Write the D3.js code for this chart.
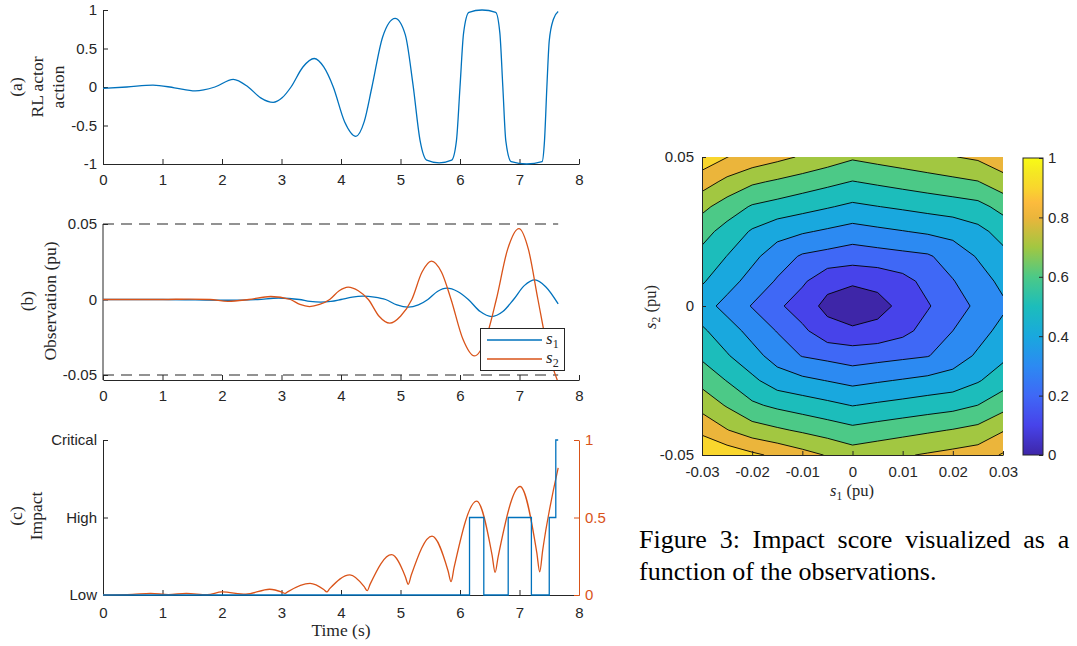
<!DOCTYPE html>
<html>
<head>
<meta charset="utf-8">
<script src="https://cdn.jsdelivr.net/npm/d3@7"></script>
<style>
  html, body { margin: 0; padding: 0; background: #fff; }
  svg { display: block; }
</style>
</head>
<body>
<svg id="fig" width="1077" height="646"></svg>
<script>
// ---- values ----
const timeTicks = [0, 1, 2, 3, 4, 5, 6, 7, 8];

// (a) RL actor action
const actionTime = [0, 0.4, 0.84, 1.2, 1.55, 1.88, 2.19, 2.44, 2.65, 2.86, 3.01, 3.16, 3.36, 3.55, 3.71, 3.87, 4.06, 4.25, 4.39, 4.52, 4.7, 4.91, 5.08, 5.21, 5.33, 5.44, 5.65, 5.86, 5.94, 6.0, 6.06, 6.15, 6.37, 6.6, 6.67, 6.72, 6.77, 6.86, 7.12, 7.38, 7.42, 7.46, 7.5, 7.57, 7.65];
const action = [-0.017, 0.0, 0.025, -0.01, -0.05, 0.0, 0.1, 0.0, -0.141, -0.2, -0.141, 0.0, 0.26, 0.37, 0.26, 0.0, -0.45, -0.64, -0.45, 0.0, 0.65, 0.89, 0.68, 0.03, -0.7, -0.95, -0.985, -0.95, -0.7, 0.0, 0.7, 0.97, 1.0, 0.97, 0.7, 0.0, -0.7, -0.97, -1.0, -0.97, -0.7, 0.0, 0.6, 0.88, 0.98];
const actionTicks = [-1, -0.5, 0, 0.5, 1];

// (b) observations
const s1Time = [0, 1.0, 2.1, 2.6, 2.95, 3.3, 3.48, 3.66, 3.83, 4.0, 4.19, 4.37, 4.56, 4.75, 4.94, 5.13, 5.3, 5.46, 5.62, 5.78, 5.96, 6.14, 6.34, 6.53, 6.72, 6.9, 7.08, 7.26, 7.44, 7.65];
const s1 = [0, 0, -0.0005, 0, 0.001, 0, -0.0013, -0.0018, -0.0013, 0, 0.0016, 0.0022, 0.0016, 0, -0.0036, -0.0051, -0.0036, 0, 0.0053, 0.0075, 0.0053, 0, -0.008, -0.0113, -0.008, 0, 0.0092, 0.013, 0.0085, -0.0029];
const s2Time = [0, 1.0, 1.45, 1.8, 2.1, 2.45, 2.82, 3.15, 3.31, 3.47, 3.64, 3.81, 3.97, 4.12, 4.29, 4.46, 4.64, 4.82, 5.0, 5.19, 5.36, 5.52, 5.69, 5.85, 6.05, 6.24, 6.43, 6.61, 6.8, 6.99, 7.15, 7.31, 7.48, 7.65];
const s2 = [0, 0, 0.0003, 0, -0.0012, 0, 0.002, 0, -0.0033, -0.0047, -0.0033, 0, 0.0058, 0.0082, 0.0058, 0, -0.0111, -0.0157, -0.0111, 0, 0.018, 0.0254, 0.018, 0, -0.0264, -0.0374, -0.0264, 0, 0.0332, 0.047, 0.0332, 0, -0.034, -0.055];
const obsLimitTime = [0, 7.65];
const obsLimits = [0.05, -0.05];
const obsTicks = [-0.05, 0, 0.05];

// (c) impact
const scoreTime = [0, 0.5, 0.8, 1.1, 1.4, 1.75, 2.0, 2.4, 2.8, 3.01, 3.06, 3.11, 3.48, 3.71, 3.76, 3.81, 4.15, 4.39, 4.44, 4.49, 4.85, 5.08, 5.13, 5.18, 5.53, 5.8, 5.85, 5.9, 6.28, 6.54, 6.59, 6.64, 7.01, 7.29, 7.34, 7.39, 7.65];
const score = [0, 0.004, 0.01, 0.003, 0.01, 0.002, 0.02, 0.005, 0.037, 0.018, 0.01, 0.022, 0.075, 0.035, 0.02, 0.041, 0.13, 0.054, 0.028, 0.07, 0.26, 0.12, 0.069, 0.127, 0.38, 0.155, 0.086, 0.176, 0.606, 0.256, 0.146, 0.245, 0.7, 0.275, 0.15, 0.29, 0.82];
const levelTime = [0, 6.16, 6.4, 6.81, 7.2, 7.5, 7.61, 7.65];
const level = [0, 1, 0, 1, 0, 1, 2, 2];
const impactLevels = ["Low", "High", "Critical"];
const scoreTicks = [0, 0.5, 1];

// contour of the impact score over (s1, s2); rows run from s2 = 0.05 down to -0.05
const s1Grid = [-0.03, -0.025, -0.02, -0.015, -0.01, -0.005, 0, 0.005, 0.01, 0.015, 0.02, 0.025, 0.03];
const s2Grid = [0.05, 0.0417, 0.0333, 0.025, 0.0167, 0.0083, 0, -0.0083, -0.0167, -0.025, -0.0333, -0.0417, -0.05];
const impactGrid = [
  [0.961, 0.902, 0.864, 0.827, 0.789, 0.752, 0.714, 0.735, 0.755, 0.776, 0.796, 0.817, 0.870],
  [0.847, 0.774, 0.716, 0.686, 0.656, 0.626, 0.596, 0.616, 0.636, 0.656, 0.676, 0.696, 0.758],
  [0.726, 0.653, 0.590, 0.563, 0.535, 0.508, 0.480, 0.498, 0.515, 0.533, 0.550, 0.569, 0.633],
  [0.636, 0.563, 0.489, 0.436, 0.411, 0.386, 0.361, 0.379, 0.396, 0.414, 0.431, 0.472, 0.536],
  [0.571, 0.498, 0.424, 0.350, 0.288, 0.266, 0.243, 0.258, 0.273, 0.288, 0.344, 0.408, 0.472],
  [0.511, 0.438, 0.364, 0.290, 0.217, 0.130, 0.123, 0.130, 0.167, 0.231, 0.295, 0.359, 0.423],
  [0.441, 0.368, 0.294, 0.220, 0.147, 0.074, 0.000, 0.064, 0.128, 0.192, 0.256, 0.320, 0.384],
  [0.516, 0.443, 0.369, 0.295, 0.222, 0.135, 0.125, 0.132, 0.172, 0.236, 0.300, 0.364, 0.428],
  [0.581, 0.508, 0.434, 0.360, 0.295, 0.273, 0.250, 0.265, 0.280, 0.295, 0.350, 0.414, 0.478],
  [0.669, 0.596, 0.522, 0.448, 0.422, 0.397, 0.372, 0.390, 0.407, 0.425, 0.442, 0.491, 0.555],
  [0.764, 0.691, 0.617, 0.580, 0.552, 0.525, 0.497, 0.515, 0.532, 0.550, 0.567, 0.601, 0.665],
  [0.877, 0.804, 0.745, 0.715, 0.685, 0.655, 0.625, 0.645, 0.665, 0.685, 0.705, 0.729, 0.793],
  [0.990, 0.963, 0.920, 0.878, 0.835, 0.793, 0.750, 0.770, 0.790, 0.810, 0.830, 0.850, 0.910]
];
const contourLevels = [0, 0.1, 0.2, 0.3, 0.4, 0.5, 0.6, 0.7, 0.8, 0.9];
const s1Ticks = [-0.03, -0.02, -0.01, 0, 0.01, 0.02, 0.03];
const s2Ticks = [-0.05, 0, 0.05];
const colorbarTicks = [0, 0.2, 0.4, 0.6, 0.8, 1];

// parula-like colormap
const parulaStops = [0, 0.1, 0.2, 0.3, 0.4, 0.5, 0.6, 0.7, 0.8, 0.85, 0.9, 0.95, 1];
const parulaColors = ["#3e26a8", "#4743ea", "#3f68f6", "#2c8af2", "#19a8de", "#1cbdbb", "#4cc987", "#a2c741", "#ebb53b", "#fcbb3d", "#f9d62d", "#f5e723", "#f9fb15"];

const captionLines = ["Figure 3: Impact score visualized as a", "function of the observations."];

// ---- drawing ----
const svg = d3.select("#fig");
const blue = "#0072BD", orange = "#D95319", ink = "#262626";
const sans = "'Liberation Sans', Arial, Helvetica, sans-serif";
const serif = "'Liberation Serif', 'Times New Roman', serif";
const fmt = d => String(+d.toFixed(4));

svg.append("rect").attr("width", 1077).attr("height", 646).attr("fill", "#fff");

const x = d3.scaleLinear().domain([0, 8]).range([103, 579]);

function styleAxis(g, color) {
  g.attr("color", color).attr("font-family", sans).attr("font-size", 15);
  g.select(".domain").attr("stroke-width", 1);
  return g;
}

function timeAxis(y0, pad) {
  svg.append("g")
    .attr("transform", "translate(0," + y0 + ")")
    .call(d3.axisBottom(x).tickValues(timeTicks).tickSize(-5).tickSizeOuter(0).tickPadding(pad).tickFormat(fmt))
    .call(g => styleAxis(g, ink));
}

function leftAxis(y, ticks, format) {
  svg.append("g")
    .attr("transform", "translate(103,0)")
    .call(d3.axisLeft(y).tickValues(ticks).tickSize(-5).tickSizeOuter(0).tickPadding(6).tickFormat(format))
    .call(g => styleAxis(g, ink));
}

function yLabel(lines, xs, yc) {
  lines.forEach((t, i) => {
    svg.append("text")
      .attr("transform", "translate(" + xs[i] + "," + yc + ") rotate(-90)")
      .attr("text-anchor", "middle")
      .attr("dominant-baseline", "central")
      .attr("font-family", serif)
      .attr("font-size", 17.5)
      .attr("fill", ink)
      .text(t);
  });
}

function series(tArr, vArr, y, curve) {
  return d3.line()
    .x(i => x(tArr[i]))
    .y(i => y(vArr[i]))
    .curve(curve || d3.curveMonotoneX)(d3.range(tArr.length));
}

// (a)
const ya = d3.scaleLinear().domain([-1, 1]).range([164, 10]);
timeAxis(164, 10);
leftAxis(ya, actionTicks, fmt);
svg.append("path")
  .attr("d", series(actionTime, action, ya))
  .attr("fill", "none").attr("stroke", blue).attr("stroke-width", 1.3);
yLabel(["(a)", "RL actor", "action"], [15.5, 37, 58], 87);

// (b)
const yb = d3.scaleLinear().domain([-0.05, 0.05]).range([375, 224]);
svg.append("clipPath").attr("id", "clipB")
  .append("rect").attr("x", 103).attr("y", 200).attr("width", 476).attr("height", 180);
timeAxis(380, 10);
svg.append("g")
  .attr("transform", "translate(103,0)")
  .call(d3.axisLeft(yb).tickValues(obsTicks).tickSize(-5).tickSizeOuter(0).tickPadding(6).tickFormat(fmt))
  .call(g => styleAxis(g, ink))
  .call(g => g.select(".domain").attr("d", "M0," + yb(0.05) + "V380"));

obsLimits.forEach(v => {
  svg.append("line")
    .attr("x1", x(obsLimitTime[0])).attr("x2", x(obsLimitTime[1]))
    .attr("y1", yb(v)).attr("y2", yb(v))
    .attr("stroke", ink).attr("stroke-width", 1.1)
    .attr("stroke-dasharray", "11,7");
});
const gb = svg.append("g").attr("clip-path", "url(#clipB)");
gb.append("path").attr("d", series(s1Time, s1, yb))
  .attr("fill", "none").attr("stroke", blue).attr("stroke-width", 1.3);
gb.append("path").attr("d", series(s2Time, s2, yb))
  .attr("fill", "none").attr("stroke", orange).attr("stroke-width", 1.3);
yLabel(["(b)", "Observation (pu)"], [27, 49.5], 301);

// legend
const lg = svg.append("g");
lg.append("rect").attr("x", 480.5).attr("y", 328.5).attr("width", 84).attr("height", 42)
  .attr("fill", "#fff").attr("stroke", ink).attr("stroke-width", 1);
[["1", blue, 340], ["2", orange, 359]].forEach(([sub, c, yy]) => {
  lg.append("line").attr("x1", 487).attr("x2", 542).attr("y1", yy).attr("y2", yy)
    .attr("stroke", c).attr("stroke-width", 1.3);
  const t = lg.append("text").attr("x", 546).attr("y", yy + 4)
    .attr("font-family", serif).attr("font-size", 17).attr("fill", ink);
  t.append("tspan").attr("font-style", "italic").text("s");
  t.append("tspan").attr("font-size", 12).attr("dy", 4).text(sub);
});

// (c)
const yLevel = d3.scaleLinear().domain([0, 2]).range([595, 440]);
const yScore = d3.scaleLinear().domain([0, 1]).range([595, 440]);
timeAxis(595, 12);
leftAxis(yLevel, [0, 1, 2], i => impactLevels[i]);
svg.append("g")
  .attr("transform", "translate(579,0)")
  .call(d3.axisRight(yScore).tickValues(scoreTicks).tickSize(-5).tickSizeOuter(0).tickPadding(6).tickFormat(fmt))
  .call(g => styleAxis(g, orange));
svg.append("path").attr("d", series(scoreTime, score, yScore))
  .attr("fill", "none").attr("stroke", orange).attr("stroke-width", 1.3);
svg.append("path").attr("d", series(levelTime, level, yLevel, d3.curveStepAfter))
  .attr("fill", "none").attr("stroke", blue).attr("stroke-width", 1.3);
yLabel(["(c)", "Impact"], [15.5, 36], 516);
svg.append("text")
  .attr("x", x(4)).attr("y", 630)
  .attr("text-anchor", "middle").attr("dominant-baseline", "central")
  .attr("font-family", serif).attr("font-size", 17.5).attr("fill", ink)
  .text("Time (s)");

// ---- contour panel ----
const xc = d3.scaleLinear().domain([-0.03, 0.03]).range([702, 1003]);
const yc = d3.scaleLinear().domain([-0.05, 0.05]).range([455, 157]);
const color = d3.scaleLinear().domain(parulaStops).range(parulaColors).interpolate(d3.interpolateRgb);

const gx = d3.scaleLinear().domain([0.5, s1Grid.length - 0.5]).range([xc(s1Grid[0]), xc(s1Grid[s1Grid.length - 1])]);
const gy = d3.scaleLinear().domain([0.5, s2Grid.length - 0.5]).range([yc(s2Grid[0]), yc(s2Grid[s2Grid.length - 1])]);
const gridPath = d3.geoPath(d3.geoTransform({
  point(px, py) { this.stream.point(gx(px), gy(py)); }
}));

const bands = d3.contours()
  .size([s1Grid.length, s2Grid.length])
  .thresholds(contourLevels)(impactGrid.flat());

svg.append("clipPath").attr("id", "clipC")
  .append("rect").attr("x", xc(-0.03)).attr("y", yc(0.05))
  .attr("width", xc(0.03) - xc(-0.03)).attr("height", yc(-0.05) - yc(0.05));

const gc = svg.append("g").attr("clip-path", "url(#clipC)");
gc.selectAll("path.band")
  .data(bands)
  .enter().append("path")
  .attr("class", "band")
  .attr("d", gridPath)
  .attr("fill", d => color(d.value))
  .attr("stroke", "none");
gc.selectAll("path.iso")
  .data(bands.filter(d => d.value > 0))
  .enter().append("path")
  .attr("class", "iso")
  .attr("d", gridPath)
  .attr("fill", "none")
  .attr("stroke", "#000")
  .attr("stroke-width", 0.9);

svg.append("g")
  .attr("transform", "translate(0,455)")
  .call(d3.axisBottom(xc).tickValues(s1Ticks).tickSize(-4).tickSizeOuter(0).tickPadding(11).tickFormat(fmt))
  .call(g => styleAxis(g, ink));
svg.append("g")
  .attr("transform", "translate(702,0)")
  .call(d3.axisLeft(yc).tickValues(s2Ticks).tickSize(-4).tickSizeOuter(0).tickPadding(8).tickFormat(fmt))
  .call(g => styleAxis(g, ink));

function subText(xp, yp, letter, sub, rotate) {
  const t = svg.append("text")
    .attr("transform", "translate(" + xp + "," + yp + ")" + (rotate ? " rotate(-90)" : ""))
    .attr("text-anchor", "middle")
    .attr("font-family", serif).attr("font-size", 16.5).attr("fill", ink);
  t.append("tspan").attr("font-style", "italic").text(letter);
  t.append("tspan").attr("font-size", 11.5).attr("dy", 4).text(sub);
  t.append("tspan").attr("dy", -4).text(" (pu)");
}
subText(852, 496, "s", "1", false);
subText(656, 307, "s", "2", true);

// colorbar
const cb = { x: 1023, w: 20 };
const ycb = d3.scaleLinear().domain([0, 1]).range([455, 158]);
const grad = svg.append("defs").append("linearGradient")
  .attr("id", "parula").attr("x1", 0).attr("y1", 1).attr("x2", 0).attr("y2", 0);
parulaStops.forEach((s, i) => {
  grad.append("stop").attr("offset", s).attr("stop-color", parulaColors[i]);
});
svg.append("rect")
  .attr("x", cb.x).attr("y", ycb(1)).attr("width", cb.w).attr("height", ycb(0) - ycb(1))
  .attr("fill", "url(#parula)").attr("stroke", ink).attr("stroke-width", 1);
svg.append("g")
  .attr("transform", "translate(" + (cb.x + cb.w) + ",0)")
  .call(d3.axisRight(ycb).tickValues(colorbarTicks).tickSize(-4).tickSizeOuter(0).tickPadding(5).tickFormat(fmt))
  .call(g => styleAxis(g, ink))
  .call(g => g.select(".domain").remove());

// caption (first line justified to the column width)
const cap = svg.append("g").attr("font-family", serif).attr("font-size", 26).attr("fill", "#000");
const capLine1 = cap.append("text").attr("x", 639).attr("y", 548).text(captionLines[0]);
cap.append("text").attr("x", 639).attr("y", 580).text(captionLines[1]);
const natural = capLine1.node().getComputedTextLength();
capLine1.attr("word-spacing", Math.max(0, (424 - natural) / 5));
</script>
</body>
</html>
